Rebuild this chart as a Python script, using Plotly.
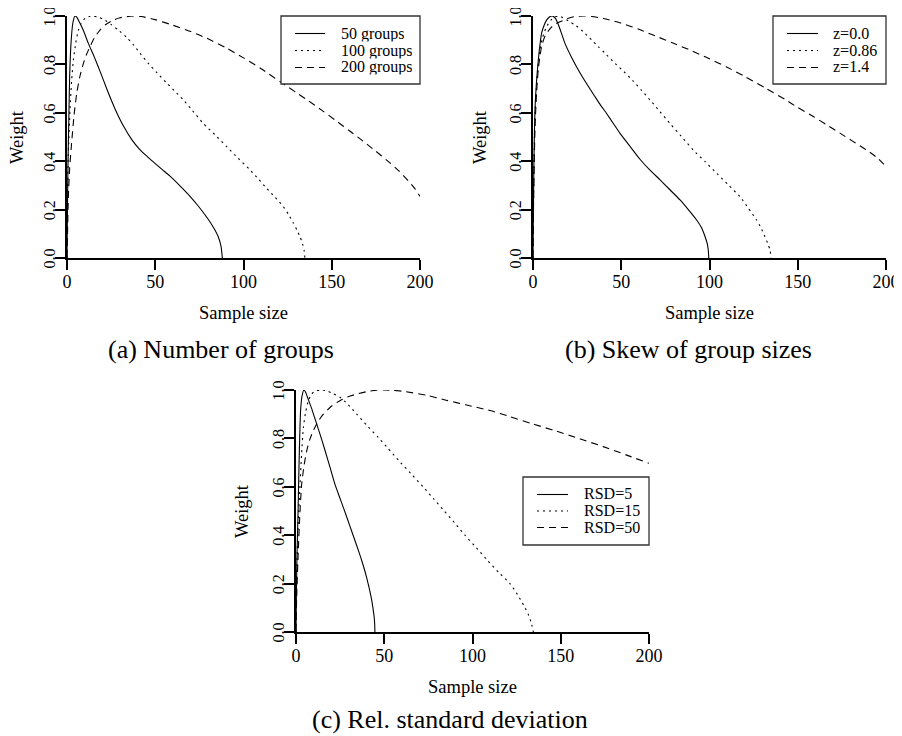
import plotly.graph_objects as go

# ---------------- data ----------------
x_ticks = [0, 50, 100, 150, 200]
y_ticks = [0, 0.2, 0.4, 0.6, 0.8, 1.0]
y_tick_labels = ["0.0", "0.2", "0.4", "0.6", "0.8", "1.0"]

# (a) Number of groups
a_labels = ["50 groups", "100 groups", "200 groups"]
a50_x = [0, 0.25, 0.5, 0.75, 1.0, 1.5, 2.3, 3.3, 4.5, 5.5, 7, 9, 12.1, 15.5, 18.8, 23, 27.3, 32, 36.6, 41,
         45.5, 50, 54, 58.4, 64, 69.7, 74, 77.2, 80, 82.9, 85.7, 87.3, 88]
a50_y = [0, 0.2, 0.35, 0.47, 0.56, 0.75, 0.89, 0.97, 1.0, 0.995, 0.975, 0.945, 0.887, 0.83, 0.77, 0.69,
         0.615, 0.545, 0.49, 0.45, 0.419, 0.39, 0.365, 0.338, 0.298, 0.255, 0.218, 0.188, 0.16, 0.127,
         0.088, 0.047, 0.0]
a100_x = [0, 0.2, 0.7, 1.7, 2.6, 3.6, 5, 6.4, 8, 10.2, 12.5, 14.9, 18, 21, 25, 29, 33.8, 37.5, 41.4, 46.1,
          51, 56, 61, 65.9, 71, 77.2, 84, 90.5, 97, 103.7, 108.5, 113.1, 118, 122.6, 125.5, 128.2, 130.3,
          132, 133.4, 134.3, 134.8]
a100_y = [0, 0.2, 0.42, 0.61, 0.73, 0.818, 0.89, 0.94, 0.97, 0.99, 0.998, 1.0, 0.995, 0.985, 0.965, 0.942,
          0.912, 0.882, 0.846, 0.804, 0.765, 0.727, 0.69, 0.653, 0.61, 0.556, 0.508, 0.46, 0.412, 0.364,
          0.326, 0.288, 0.25, 0.212, 0.18, 0.145, 0.115, 0.088, 0.06, 0.033, 0.0]
a200_x = [0, 0.3, 0.75, 1.5, 2.6, 4, 5.5, 7.3, 9.3, 11, 13, 15.5, 18.7, 22, 26.2, 30, 35.7, 38, 42, 50, 60,
          70, 79.2, 90, 100, 110, 121.7, 130, 136.7, 145, 152.8, 160, 167.9, 175, 183, 188, 193.4, 197, 200]
a200_y = [0, 0.1, 0.25, 0.37, 0.474, 0.59, 0.68, 0.75, 0.804, 0.84, 0.873, 0.91, 0.942, 0.965, 0.983, 0.993,
          0.999, 1.0, 0.998, 0.985, 0.962, 0.936, 0.908, 0.869, 0.827, 0.782, 0.724, 0.683, 0.65, 0.607,
          0.565, 0.526, 0.482, 0.441, 0.393, 0.36, 0.318, 0.288, 0.254]

# (b) Skew of group sizes
b_labels = ["z=0.0", "z=0.86", "z=1.4"]
b0_x = [0, 0.3, 0.6, 1.1, 2, 3.0, 4.0, 4.9, 6.3, 7.7, 9.3, 10.9, 12.7, 14.5, 16.3, 18.1, 21.8, 25.7, 30.4,
        35.1, 38, 41.8, 45.5, 49.3, 55, 60.6, 66, 72, 77.6, 83.3, 88, 92.7, 95.5, 97.5, 98.7, 99.3, 99.6]
b0_y = [0, 0.25, 0.43, 0.61, 0.73, 0.818, 0.885, 0.93, 0.962, 0.983, 0.996, 1.0, 0.99, 0.962, 0.925, 0.887,
        0.83, 0.777, 0.72, 0.667, 0.635, 0.596, 0.556, 0.515, 0.461, 0.408, 0.365, 0.323, 0.282, 0.24, 0.2,
        0.157, 0.125, 0.088, 0.06, 0.033, 0.0]
b086_x = [0, 0.3, 0.6, 1.1, 2, 3, 4, 5, 6.5, 8, 10, 12, 14.5, 17, 20, 23.8, 28.5, 33.3, 37, 40.8, 46.5, 51.5,
          56.5, 61.5, 66.3, 72, 77.6, 84, 90.8, 97.5, 104.1, 110.7, 117.3, 122, 126.7, 129.3, 131.4, 133,
          134.3, 134.8]
b086_y = [0, 0.24, 0.41, 0.58, 0.71, 0.80, 0.855, 0.90, 0.935, 0.96, 0.982, 0.995, 1.0, 0.993, 0.98, 0.963,
          0.935, 0.90, 0.873, 0.846, 0.804, 0.77, 0.733, 0.693, 0.653, 0.604, 0.556, 0.503, 0.446, 0.398,
          0.35, 0.302, 0.253, 0.206, 0.157, 0.123, 0.088, 0.06, 0.033, 0.0]
b14_x = [0, 0.3, 0.7, 1.2, 2, 3, 4.9, 7, 10.6, 13, 16, 19, 22, 25.5, 29, 33, 40, 50, 60, 69.2, 80, 90, 98.5,
         110, 120, 131.5, 142.8, 150, 158.8, 166, 173.9, 181, 189, 195, 200]
b14_y = [0, 0.22, 0.4, 0.55, 0.68, 0.78, 0.875, 0.92, 0.955, 0.968, 0.978, 0.988, 0.995, 0.999, 1.0, 0.998,
         0.99, 0.97, 0.945, 0.918, 0.886, 0.856, 0.828, 0.788, 0.75, 0.703, 0.655, 0.622, 0.585, 0.552,
         0.516, 0.483, 0.446, 0.414, 0.378]

# (c) Rel. standard deviation
c_labels = ["RSD=5", "RSD=15", "RSD=50"]
c5_x = [0, 0.3, 0.6, 1.1, 1.5, 1.9, 2.6, 3.4, 4.5, 5.5, 7, 8.8, 10.5, 13.5, 16.5, 19.3, 22, 25.4, 28.8, 32.1,
        35.4, 37.8, 40, 42.6, 43.6, 44.3, 44.6, 44.7]
c5_y = [0, 0.2, 0.33, 0.474, 0.62, 0.749, 0.914, 0.975, 1.0, 0.99, 0.96, 0.925, 0.887, 0.82, 0.749, 0.68,
        0.612, 0.543, 0.474, 0.405, 0.336, 0.282, 0.226, 0.143, 0.1, 0.061, 0.03, 0.0]
c15_x = [0, 0.3, 0.7, 1.3, 2.3, 3.2, 4.2, 5.5, 7, 9, 11, 13.6, 15, 18, 21, 24.9, 29.5, 34.4, 40, 46.6, 52, 58,
         65, 72, 78, 84, 90, 95.7, 102, 108, 115, 121.2, 125.5, 129, 131.5, 133.2, 134.5]
c15_y = [0, 0.2, 0.33, 0.46, 0.61, 0.74, 0.846, 0.91, 0.956, 0.985, 0.996, 1.0, 1.0, 0.995, 0.985, 0.97,
         0.94, 0.90, 0.855, 0.804, 0.76, 0.71, 0.655, 0.6, 0.55, 0.5, 0.45, 0.4, 0.35, 0.3, 0.245, 0.2,
         0.155, 0.11, 0.075, 0.04, 0.0]
c50_x = [0, 0.4, 1.3, 2.2, 3.2, 4.6, 6.1, 7.8, 9.8, 12.5, 15.5, 20, 24.9, 29.5, 34.4, 40, 45.7, 50, 55, 62,
         74, 85, 96.7, 110, 121.2, 133, 145.8, 160, 174.1, 187, 200]
c50_y = [0, 0.15, 0.336, 0.49, 0.61, 0.69, 0.749, 0.795, 0.832, 0.87, 0.90, 0.933, 0.956, 0.972, 0.983,
         0.993, 0.999, 1.0, 0.999, 0.993, 0.978, 0.958, 0.938, 0.915, 0.89, 0.862, 0.834, 0.8, 0.766, 0.732,
         0.697]

captions = ["(a) Number of groups", "(b) Skew of group sizes", "(c) Rel. standard deviation"]

# ---------------- layout helpers ----------------
W, H = 902, 736
OFF = 8  # the page body margin shifts the figure by this many pixels
FONT = "Liberation Serif, Times New Roman, Times, DejaVu Serif, serif"


def px_x(p):
    return (p - OFF) / W


def px_y(p):
    return 1 - (p - OFF) / H


DASHES = ["solid", "2px,4px", "7px,5px"]

# panel geometry in (page) pixels: (left, right, top, bottom)
panels = [
    (67, 420, 16, 258),
    (533, 886, 16, 258),
    (296, 649, 390, 632),
]
# legend boxes in pixels: (left, right, top, bottom, line_x0, line_x1, text_x, row_y list)
legend_boxes = [
    (281, 420, 16, 84, 295, 325, 340, [33.5, 50.5, 67.5]),
    (773, 886, 16, 84, 787, 818, 832, [33.5, 50.5, 67.5]),
    (523, 649, 477, 545, 537, 568, 583, [494.5, 511, 527.5]),
]

fig = go.Figure()

series = [
    [(a50_x, a50_y), (a100_x, a100_y), (a200_x, a200_y)],
    [(b0_x, b0_y), (b086_x, b086_y), (b14_x, b14_y)],
    [(c5_x, c5_y), (c15_x, c15_y), (c50_x, c50_y)],
]
labels = [a_labels, b_labels, c_labels]

for i in range(3):
    xa = "x" if i == 0 else f"x{i+1}"
    ya = "y" if i == 0 else f"y{i+1}"
    for j, (xs, ys) in enumerate(series[i]):
        fig.add_trace(go.Scatter(
            x=xs, y=ys, mode="lines", name=labels[i][j],
            line=dict(color="black", width=1.1, dash=DASHES[j], shape="spline", smoothing=0.6),
            xaxis=xa, yaxis=ya, showlegend=False, hoverinfo="skip",
        ))

axis_common = dict(
    showline=True, linewidth=2, linecolor="black", mirror=False,
    ticks="outside", ticklen=10, tickwidth=1.6, tickcolor="black",
    showgrid=False, zeroline=False, automargin=False, ticklabeloverflow="allow",
)

layout = dict(
    template="none",
    width=W, height=H, margin=dict(l=0, r=0, t=0, b=0, pad=0, autoexpand=False),
    paper_bgcolor="white", plot_bgcolor="white",
    font=dict(family=FONT, color="black"),
    showlegend=False,
)

for i, (l, r, t, b) in enumerate(panels):
    xk = "xaxis" if i == 0 else f"xaxis{i+1}"
    yk = "yaxis" if i == 0 else f"yaxis{i+1}"
    ya = "y" if i == 0 else f"y{i+1}"
    xa = "x" if i == 0 else f"x{i+1}"
    layout[xk] = dict(axis_common, domain=[px_x(l), px_x(r)], range=[0, 200],
                      tickmode="array", tickvals=x_ticks, ticktext=[str(v) for v in x_ticks], anchor=ya,
                      ticklabelstandoff=-4, tickfont=dict(family=FONT, size=18, color="black"))
    layout[yk] = dict(axis_common, domain=[px_y(b), px_y(t)], range=[0, 1],
                      tickmode="array", tickvals=y_ticks, ticktext=y_tick_labels, tickangle=-90, anchor=xa,
                      ticklabelstandoff=-6, ticklabelshift=3,
                      tickfont=dict(family=FONT, size=16, color="black"))

fig.update_layout(**layout)

# legends drawn as boxes with sample lines and labels
shapes = []
ann = []
leg_font = dict(family=FONT, size=16, color="black")
for i, (l, r, t, b, lx0, lx1, tx, rows) in enumerate(legend_boxes):
    shapes.append(dict(type="rect", xref="paper", yref="paper", x0=px_x(l), x1=px_x(r), y0=px_y(b),
                       y1=px_y(t), fillcolor="white", line=dict(color="#333", width=1.3), layer="above"))
    for j, ry in enumerate(rows):
        shapes.append(dict(type="line", xref="paper", yref="paper", x0=px_x(lx0), x1=px_x(lx1),
                           y0=px_y(ry), y1=px_y(ry), line=dict(color="black", width=1.1, dash=DASHES[j]),
                           layer="above"))
        ann.append(dict(text=labels[i][j], x=px_x(tx), y=px_y(ry), xref="paper", yref="paper",
                        showarrow=False, xanchor="left", yanchor="middle", font=leg_font,
                        height=15.5, borderpad=0))

# axis titles and captions
title_font = dict(family=FONT, size=18.5, color="black")
cap_font = dict(family=FONT, size=26, color="black")
weight_x = [17, 480, 242]
cap_x = [221, 688, 450]
cap_y = [349, 349, 719]
for i, (l, r, t, b) in enumerate(panels):
    ann.append(dict(text="Sample size", x=px_x((l + r) / 2), y=px_y(b + 55), xref="paper", yref="paper",
                    showarrow=False, xanchor="center", yanchor="middle", font=title_font))
    ann.append(dict(text="Weight", x=px_x(weight_x[i]), y=px_y((t + b) / 2), xref="paper", yref="paper",
                    showarrow=False, xanchor="center", yanchor="middle", textangle=-90, font=title_font))
    ann.append(dict(text=captions[i], x=px_x(cap_x[i]), y=px_y(cap_y[i]), xref="paper", yref="paper",
                    showarrow=False, xanchor="center", yanchor="middle", font=cap_font))
fig.update_layout(shapes=shapes, annotations=ann)

fig.write_html("out.html")
